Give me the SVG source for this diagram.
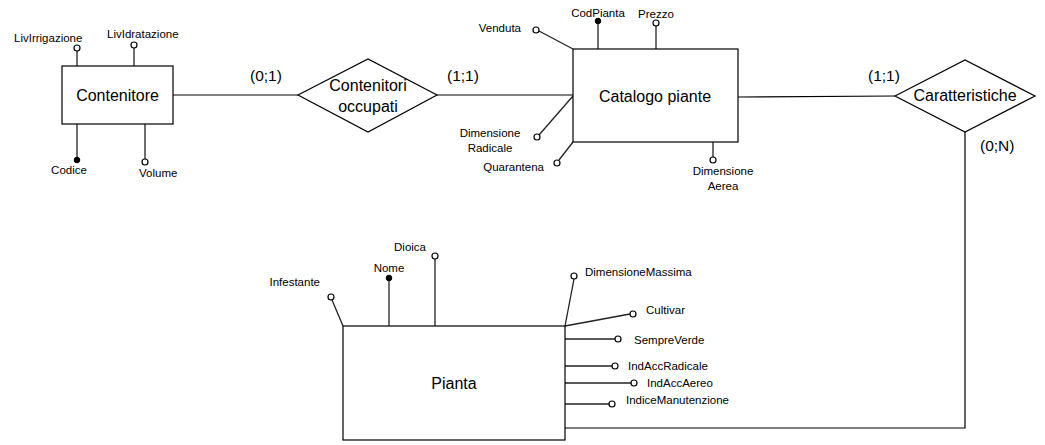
<svg xmlns="http://www.w3.org/2000/svg" width="1045" height="445" viewBox="0 0 1045 445">
<style>
.box{fill:#fff;stroke:#000;stroke-width:1.2}
.ln{fill:none;stroke:#000;stroke-width:1.2}
.at{fill:none;stroke:#222;stroke-width:1.3}
.oc{fill:#fff;stroke:#000;stroke-width:1.2}
.fc{fill:#000;stroke:#000;stroke-width:1}
.big{font-family:"Liberation Sans",Arial,sans-serif;font-size:16px;fill:#000}
.sm{font-family:"Liberation Sans",Arial,sans-serif;font-size:11.5px;fill:#000}
.card{font-family:"Liberation Sans",Arial,sans-serif;font-size:15.5px;fill:#000}
</style>
<rect width="1045" height="445" fill="#fff"/>
<g id="connectors">
<line class="ln" x1="173" y1="95" x2="298" y2="95"/>
<line class="ln" x1="437" y1="95" x2="573" y2="95"/>
<line class="ln" x1="738" y1="97" x2="895" y2="96"/>
<polyline class="ln" points="965,132 965,428 565,428"/>
<text class="card" x="250" y="81">(0;1)</text>
<text class="card" x="447" y="81">(1;1)</text>
<text class="card" x="868" y="81">(1;1)</text>
<text class="card" x="980" y="151">(0;N)</text>
</g>
<g id="contenitore">
<line class="at" x1="77" y1="66" x2="77" y2="51"/>
<circle class="oc" cx="77" cy="48" r="3"/>
<text class="sm" x="14" y="42">LivIrrigazione</text>
<line class="at" x1="134" y1="66" x2="134" y2="48"/>
<circle class="oc" cx="134" cy="45" r="3"/>
<text class="sm" x="107" y="38">LivIdratazione</text>
<line class="at" x1="77" y1="124" x2="77" y2="160"/>
<circle class="fc" cx="77" cy="160" r="2.8"/>
<text class="sm" x="69" y="174" text-anchor="middle">Codice</text>
<line class="at" x1="145" y1="124" x2="145" y2="159"/>
<circle class="oc" cx="145" cy="162" r="3"/>
<text class="sm" x="139" y="177">Volume</text>
<rect class="box" x="62" y="66" width="111" height="58"/>
<text class="big" x="117.5" y="101" text-anchor="middle">Contenitore</text>
</g>
<g id="contenitori-occupati">
<polygon class="box" points="298,95 368,59 437,95 368,132"/>
<text class="big" x="368" y="91" text-anchor="middle">Contenitori</text>
<text class="big" x="368" y="112" text-anchor="middle">occupati</text>
</g>
<g id="catalogo-piante">
<line class="at" x1="573" y1="49" x2="539" y2="31"/>
<circle class="oc" cx="536" cy="30" r="3"/>
<text class="sm" x="521" y="32" text-anchor="end">Venduta</text>
<line class="at" x1="598" y1="49" x2="598" y2="21"/>
<circle class="fc" cx="598" cy="21" r="2.8"/>
<text class="sm" x="598" y="17" text-anchor="middle">CodPianta</text>
<line class="at" x1="656" y1="49" x2="656" y2="26"/>
<circle class="oc" cx="656" cy="23" r="3"/>
<text class="sm" x="656" y="18" text-anchor="middle">Prezzo</text>
<line class="at" x1="573" y1="96" x2="539" y2="135"/>
<circle class="oc" cx="537" cy="137" r="3"/>
<text class="sm" x="490" y="137" text-anchor="middle">Dimensione</text>
<text class="sm" x="490" y="152" text-anchor="middle">Radicale</text>
<line class="at" x1="573" y1="142" x2="559" y2="160"/>
<circle class="oc" cx="557" cy="163" r="3"/>
<text class="sm" x="544" y="171" text-anchor="end">Quarantena</text>
<line class="at" x1="713" y1="142" x2="713" y2="157"/>
<circle class="oc" cx="713" cy="160" r="3"/>
<text class="sm" x="723" y="175" text-anchor="middle">Dimensione</text>
<text class="sm" x="723" y="190" text-anchor="middle">Aerea</text>
<rect class="box" x="573" y="49" width="165" height="93"/>
<text class="big" x="655" y="102" text-anchor="middle">Catalogo piante</text>
</g>
<g id="caratteristiche">
<polygon class="box" points="895,96 965,60 1035,96 965,132"/>
<text class="big" x="965" y="101" text-anchor="middle">Caratteristiche</text>
</g>
<g id="pianta">
<line class="at" x1="343" y1="326" x2="332" y2="300"/>
<circle class="oc" cx="331" cy="297" r="3"/>
<text class="sm" x="320" y="286" text-anchor="end">Infestante</text>
<line class="at" x1="389" y1="326" x2="389" y2="278"/>
<circle class="fc" cx="389" cy="278" r="2.8"/>
<text class="sm" x="389" y="272" text-anchor="middle">Nome</text>
<line class="at" x1="435" y1="326" x2="435" y2="259"/>
<circle class="oc" cx="435" cy="256" r="3"/>
<text class="sm" x="410" y="251" text-anchor="middle">Dioica</text>
<line class="at" x1="565" y1="326" x2="574" y2="279"/>
<circle class="oc" cx="574" cy="276" r="3"/>
<text class="sm" x="585" y="276">DimensioneMassima</text>
<line class="at" x1="565" y1="326" x2="630" y2="314"/>
<circle class="oc" cx="633" cy="314" r="3"/>
<text class="sm" x="646" y="314">Cultivar</text>
<line class="at" x1="565" y1="339" x2="615" y2="339"/>
<circle class="oc" cx="618" cy="339" r="3"/>
<text class="sm" x="634" y="344">SempreVerde</text>
<line class="at" x1="565" y1="366" x2="612" y2="366"/>
<circle class="oc" cx="615" cy="366" r="3"/>
<text class="sm" x="628" y="370">IndAccRadicale</text>
<line class="at" x1="565" y1="383" x2="631" y2="383"/>
<circle class="oc" cx="634" cy="383" r="3"/>
<text class="sm" x="647" y="387">IndAccAereo</text>
<line class="at" x1="565" y1="404" x2="609" y2="404"/>
<circle class="oc" cx="612" cy="404" r="3"/>
<text class="sm" x="626" y="404">IndiceManutenzione</text>
<rect class="box" x="343" y="326" width="222" height="114"/>
<text class="big" x="454" y="389" text-anchor="middle">Pianta</text>
</g>
</svg>
